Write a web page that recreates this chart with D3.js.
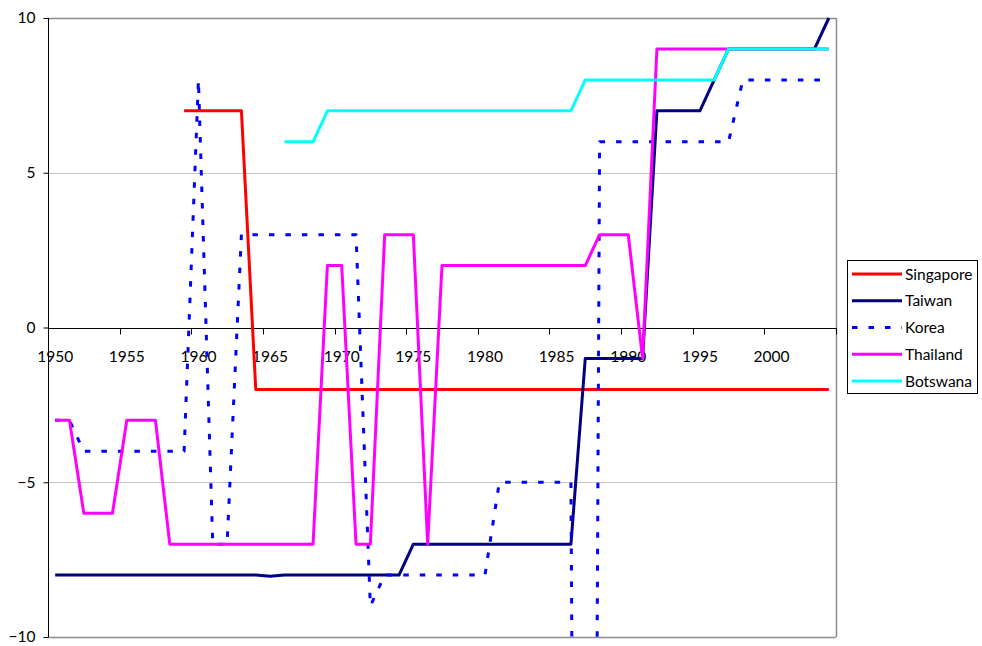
<!DOCTYPE html>
<html>
<head>
<meta charset="utf-8">
<script src="https://cdn.jsdelivr.net/npm/d3@7"></script>
<style>
  body { margin: 0; background: #fff; }
  svg { display: block; font-family: Lato, "Open Sans", sans-serif; }
</style>
</head>
<body>
<div id="chart"></div>
<script>
// chart values, one per year 1950..2004 (null = no data)
var years = d3.range(1950, 2005);
var yTicks = [-10, -5, 0, 5, 10];
var xLabels = [1950, 1955, 1960, 1965, 1970, 1975, 1980, 1985, 1990, 1995, 2000];

var singapore = [null, null, null, null, null, null, null, null, null,
    7, 7, 7, 7, 7,
    -2, -2, -2, -2, -2, -2, -2, -2, -2, -2, -2, -2, -2, -2, -2, -2, -2, -2, -2, -2,
    -2, -2, -2, -2, -2, -2, -2, -2, -2, -2, -2, -2, -2, -2, -2, -2, -2, -2, -2, -2, -2];
var taiwan = [-8, -8, -8, -8, -8, -8, -8, -8, -8, -8, -8, -8, -8, -8, -8,
    -8.04,
    -8, -8, -8, -8, -8, -8, -8, -8, -8,
    -7, -7, -7, -7, -7, -7, -7, -7, -7, -7, -7, -7,
    -1, -1, -1, -1, -1,
    7, 7, 7, 7,
    8,
    9, 9, 9, 9, 9, 9, 9,
    10];
var korea = [-3, -3,
    -4, -4, -4, -4, -4, -4, -4, -4,
    8, -7, -7,
    3, 3, 3, 3, 3, 3, 3, 3, 3,
    -9,
    -8, -8, -8, -8, -8, -8, -8, -8,
    -5, -5, -5, -5, -5, -5,
    -88,
    6, 6, 6, 6, 6, 6, 6, 6, 6, 6,
    8, 8, 8, 8, 8, 8, 8];
var thailand = [-3, -3,
    -6, -6, -6,
    -3, -3, -3,
    -7, -7, -7, -7, -7, -7, -7, -7, -7, -7, -7,
    2, 2,
    -7, -7,
    3, 3, 3,
    -7,
    2, 2, 2, 2, 2, 2, 2, 2, 2, 2, 2,
    3, 3, 3,
    -1,
    9, 9, 9, 9, 9, 9, 9, 9, 9, 9, 9, 9, 9];
var botswana = [null, null, null, null, null, null, null, null, null, null, null, null, null, null, null, null,
    6, 6, 6,
    7, 7, 7, 7, 7, 7, 7, 7, 7, 7, 7, 7, 7, 7, 7, 7, 7, 7,
    8, 8, 8, 8, 8, 8, 8, 8, 8, 8,
    9, 9, 9, 9, 9, 9, 9, 9];

var seriesNames = ['Singapore', 'Taiwan', 'Korea', 'Thailand', 'Botswana'];
var seriesValues = [singapore, taiwan, korea, thailand, botswana];
var seriesColors = ['#ff0000', '#000080', '#0000ff', '#ff00ff', '#00ffff'];
var seriesDash = [null, null, '5.5,11', null, null];

var width = 982, height = 646;
var plot = {left: 48, right: 836, top: 18, bottom: 637};
var fontSize = '15.5px';

var svg = d3.select('#chart').append('svg')
    .attr('width', width)
    .attr('height', height);

var x = d3.scaleBand()
    .domain(years)
    .range([plot.left, plot.right])
    .paddingInner(0).paddingOuter(0);
var bw = x.bandwidth();
var xc = function (yr) { return x(yr) + bw / 2; };

var y = d3.scaleLinear()
    .domain([-10, 10])
    .range([plot.bottom, plot.top]);

// gridlines
svg.append('g').selectAll('line')
    .data(yTicks.filter(function (d) { return d !== 0; }))
    .enter().append('line')
    .attr('x1', plot.left).attr('x2', plot.right)
    .attr('y1', function (d) { return Math.round(y(d)) + 0.5; })
    .attr('y2', function (d) { return Math.round(y(d)) + 0.5; })
    .attr('stroke', function (d) { return Math.abs(d) === 10 ? '#8c8c8c' : '#c4c4c4'; })
    .attr('stroke-width', function (d) { return Math.abs(d) === 10 ? 1.5 : 1; });

// plot area border on the right
svg.append('line')
    .attr('x1', plot.right + 0.5).attr('x2', plot.right + 0.5)
    .attr('y1', plot.top).attr('y2', plot.bottom)
    .attr('stroke', '#8c8c8c').attr('stroke-width', 1.5);

// y axis
var yAxis = d3.axisLeft(y).tickValues(yTicks).tickSize(5).tickPadding(8);
var gy = svg.append('g')
    .attr('transform', 'translate(' + (plot.left + 0.5) + ',0)')
    .call(yAxis);
gy.select('.domain').attr('d', 'M0,' + plot.top + 'V' + plot.bottom).attr('stroke', '#000');
gy.selectAll('.tick line').attr('stroke', '#000');
gy.selectAll('.tick text')
    .attr('font-size', fontSize)
    .attr('fill', '#000')
    .attr('font-family', 'Lato, sans-serif');

// x axis sits on y = 0, ticks between categories
var y0 = Math.round(y(0)) + 0.5;
var gx = svg.append('g');
gx.append('line')
    .attr('x1', plot.left).attr('x2', plot.right + 1)
    .attr('y1', y0).attr('y2', y0)
    .attr('stroke', '#000');
var tickPos = xLabels.map(function (yr) { return x(yr); }).concat([plot.right]);
gx.selectAll('.xtick')
    .data(tickPos)
    .enter().append('line')
    .attr('class', 'xtick')
    .attr('x1', function (d) { return Math.round(d) + 0.5; })
    .attr('x2', function (d) { return Math.round(d) + 0.5; })
    .attr('y1', y0).attr('y2', y0 + 6)
    .attr('stroke', '#000');
gx.selectAll('.xlabel')
    .data(xLabels)
    .enter().append('text')
    .attr('class', 'xlabel')
    .attr('x', function (d) { return xc(d); })
    .attr('y', y0 + 33)
    .attr('text-anchor', 'middle')
    .attr('font-size', fontSize)
    .text(function (d) { return d; });

// lines
svg.append('defs').append('clipPath').attr('id', 'clip')
    .append('rect')
    .attr('x', plot.left).attr('y', plot.top - 8)
    .attr('width', plot.right - plot.left + 4)
    .attr('height', plot.bottom - plot.top + 12);

var line = d3.line()
    .defined(function (d) { return d.v !== null; })
    .x(function (d) { return xc(d.year); })
    .y(function (d) { return y(d.v); });

var lines = svg.append('g').attr('clip-path', 'url(#clip)');
seriesValues.forEach(function (vals, i) {
    var pts = years.map(function (yr, k) { return {year: yr, v: vals[k]}; });
    lines.append('path')
        .datum(pts)
        .attr('d', line)
        .attr('fill', 'none')
        .attr('stroke', seriesColors[i])
        .attr('stroke-width', 3)
        .attr('stroke-linejoin', 'round')
        .attr('stroke-dasharray', seriesDash[i]);
});

// legend
var legend = svg.append('g').attr('transform', 'translate(847.5,260.5)');
legend.append('rect')
    .attr('width', 130).attr('height', 133)
    .attr('fill', '#fff').attr('stroke', '#000');
seriesNames.forEach(function (name, i) {
    var ly = 13.5 + i * 26.75;
    legend.append('line')
        .attr('x1', 4.5).attr('x2', 54.5)
        .attr('y1', ly).attr('y2', ly)
        .attr('stroke', seriesColors[i])
        .attr('stroke-width', 3)
        .attr('stroke-dasharray', seriesDash[i]);
    legend.append('text')
        .attr('x', 57.5).attr('y', ly + 5.5)
        .attr('font-size', fontSize)
        .text(name);
});
</script>
</body>
</html>
